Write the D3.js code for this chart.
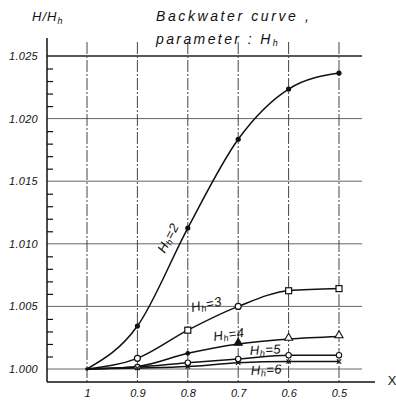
<!DOCTYPE html>
<html>
<head>
<meta charset="utf-8">
<script src="https://cdn.jsdelivr.net/npm/d3@7"></script>
<style>
  body { margin: 0; background: #fff; }
  text { font-family: "Liberation Sans", "DejaVu Sans", sans-serif; font-style: italic; fill: #111; }
</style>
</head>
<body>
<div id="chart"></div>
<script>
// ---- data ----
var xValues = [1, 0.9, 0.8, 0.7, 0.6, 0.5];
var yTicks = [1.000, 1.005, 1.010, 1.015, 1.020, 1.025];
var hh2 = [1.0000, 1.00343, 1.01126, 1.01835, 1.02236, 1.02364];
var hh3 = [1.0000, 1.00085, 1.0031, 1.0050, 1.00625, 1.00642];
var hh4 = [1.0000, 1.0002, 1.00125, 1.0020, 1.0024, 1.0026];
var hh5 = [1.0000, 1.00015, 1.0005, 1.0008, 1.0011, 1.0011];
var hh6 = [1.0000, 1.00008, 1.0002, 1.0005, 1.0006, 1.0006];

var series = [
    {name: "2", values: hh2, marker: "dot"},
    {name: "3", values: hh3, marker: "square"},
    {name: "4", values: hh4, marker: "triangle"},
    {name: "5", values: hh5, marker: "circle"},
    {name: "6", values: hh6, marker: "cross"}
];

var width = 396, height = 401;
var axisX = 47, axisY = 382;

var svg = d3.select("#chart")
    .append("svg")
    .attr("width", width)
    .attr("height", height);

var x = d3.scaleLinear().domain([1, 0.5]).range([87, 339]);
var y = d3.scaleLinear().domain([1.000, 1.025]).range([369, 56]);

// grid
var grid = svg.append("g").attr("class", "grid");
grid.selectAll("line.h")
    .data(yTicks)
    .enter().append("line")
    .attr("x1", axisX).attr("x2", 362)
    .attr("y1", function(d) { return y(d); })
    .attr("y2", function(d) { return y(d); })
    .attr("stroke", function(d) { return d === 1.025 ? "#222" : "#666"; })
    .attr("stroke-width", function(d) { return d === 1.025 ? 1.4 : 1; });

grid.selectAll("line.v")
    .data(xValues)
    .enter().append("line")
    .attr("x1", function(d) { return x(d); })
    .attr("x2", function(d) { return x(d); })
    .attr("y1", 42).attr("y2", axisY)
    .attr("stroke", "#444")
    .attr("stroke-width", 1)
    .attr("stroke-dasharray", "12,2,2,2");

// axis lines
svg.append("line")
    .attr("x1", axisX).attr("x2", axisX)
    .attr("y1", 38).attr("y2", axisY)
    .attr("stroke", "#111").attr("stroke-width", 1.5);
svg.append("line")
    .attr("x1", axisX).attr("x2", 375)
    .attr("y1", axisY).attr("y2", axisY)
    .attr("stroke", "#111").attr("stroke-width", 1.5);

// y axis labels (major)
var yAxis = d3.axisLeft(y)
    .tickValues(yTicks)
    .tickSize(0)
    .tickPadding(9)
    .tickFormat(d3.format(".3f"));
var gy = svg.append("g")
    .attr("transform", "translate(" + axisX + ",0)")
    .call(yAxis);
gy.select(".domain").remove();
gy.selectAll("text")
    .style("font-size", "11px")
    .style("letter-spacing", "0.3px");

// y minor ticks every 0.001
var minor = d3.range(1, 25).filter(function(i) { return i % 5 !== 0; })
    .map(function(i) { return 1 + i / 1000; });
var gym = svg.append("g")
    .attr("transform", "translate(" + axisX + ",0)")
    .call(d3.axisRight(y).tickValues(minor).tickSize(6).tickFormat(""));
gym.select(".domain").remove();
gym.selectAll("line").attr("stroke", "#111").attr("stroke-width", 1.2);

// x axis labels
var xAxis = d3.axisBottom(x)
    .tickValues(xValues)
    .tickSize(0)
    .tickPadding(7)
    .tickFormat(function(d) { return d === 1 ? "1" : d3.format(".1f")(d); });
var gx = svg.append("g")
    .attr("transform", "translate(0," + axisY + ")")
    .call(xAxis);
gx.select(".domain").remove();
gx.selectAll("text").style("font-size", "11px");

svg.append("text")
    .attr("x", 392).attr("y", 385)
    .attr("text-anchor", "middle")
    .style("font-size", "13px")
    .style("font-style", "normal")
    .text("X");

// titles
var yt = svg.append("text")
    .attr("x", 32).attr("y", 21)
    .style("font-size", "13px")
    .style("letter-spacing", "1px");
yt.append("tspan").text("H/H");
yt.append("tspan").attr("dy", 3).style("font-size", "9px").text("h");

svg.append("text")
    .attr("x", 156).attr("y", 21)
    .style("font-size", "14px")
    .style("letter-spacing", "2.6px")
    .text("Backwater curve ,");
var pt = svg.append("text")
    .attr("x", 156).attr("y", 44)
    .style("font-size", "14px")
    .style("letter-spacing", "2.4px");
pt.append("tspan").text("parameter : H");
pt.append("tspan").attr("dy", 2).style("font-size", "9px").text("h");

// curves
var line = d3.line()
    .x(function(d, i) { return x(xValues[i]); })
    .y(function(d) { return y(d); })
    .curve(d3.curveMonotoneX);

var gs = svg.append("g");
gs.selectAll("path.curve")
    .data(series)
    .enter().append("path")
    .attr("d", function(s) { return line(s.values); })
    .attr("fill", "none")
    .attr("stroke", "#111")
    .attr("stroke-width", 1.5);

// markers (skip the common origin at x = 1)
series.forEach(function(s) {
    var pts = s.values.map(function(v, i) { return {x: xValues[i], y: v}; }).slice(1);
    var g = gs.append("g");
    pts.forEach(function(p) {
        var px = x(p.x), py = y(p.y);
        if (s.marker === "dot") {
            g.append("circle").attr("cx", px).attr("cy", py).attr("r", 2.6).attr("fill", "#111");
        } else if (s.marker === "square") {
            if (p.x === 0.9 || p.x === 0.7) {
                g.append("circle").attr("cx", px).attr("cy", py).attr("r", 3)
                    .attr("fill", "#fff").attr("stroke", "#111").attr("stroke-width", 1.2);
            } else {
                g.append("rect").attr("x", px - 3).attr("y", py - 3).attr("width", 6).attr("height", 6)
                    .attr("fill", "#fff").attr("stroke", "#111").attr("stroke-width", 1.2);
            }
        } else if (s.marker === "triangle") {
            if (p.x >= 0.8) {
                g.append("circle").attr("cx", px).attr("cy", py).attr("r", 2.4).attr("fill", "#111");
            } else {
                var filled = p.x === 0.7;
                g.append("path")
                    .attr("d", d3.symbol().type(d3.symbolTriangle).size(28)())
                    .attr("transform", "translate(" + px + "," + (py - 1) + ")")
                    .attr("fill", filled ? "#111" : "#fff")
                    .attr("stroke", "#111").attr("stroke-width", 1.1);
            }
        } else if (s.marker === "circle") {
            g.append("circle").attr("cx", px).attr("cy", py).attr("r", 2.7)
                .attr("fill", "#fff").attr("stroke", "#111").attr("stroke-width", 1.1);
        } else {
            g.append("path")
                .attr("d", d3.symbol().type(d3.symbolX).size(14)())
                .attr("transform", "translate(" + px + "," + py + ")")
                .attr("fill", "none").attr("stroke", "#111").attr("stroke-width", 1.1);
        }
    });
});

// origin point
svg.append("circle").attr("cx", x(1)).attr("cy", y(1)).attr("r", 1.8).attr("fill", "#111");

// curve labels
var labels = [
    {name: "2", x: 172, y: 240, rot: -62},
    {name: "3", x: 192, y: 312, rot: -12},
    {name: "4", x: 214, y: 341, rot: -8},
    {name: "5", x: 250, y: 355, rot: -3},
    {name: "6", x: 251, y: 375, rot: -3}
];
labels.forEach(function(l) {
    var t = svg.append("text")
        .attr("transform", "translate(" + l.x + "," + l.y + ")rotate(" + l.rot + ")")
        .attr("text-anchor", l.name === "2" ? "middle" : "start")
        .style("font-size", "13px")
        .style("letter-spacing", "0.5px");
    t.append("tspan").text("H");
    t.append("tspan").attr("dy", 2).style("font-size", "9px").text("h");
    t.append("tspan").attr("dy", -2).text("=" + l.name);
});
</script>
</body>
</html>
